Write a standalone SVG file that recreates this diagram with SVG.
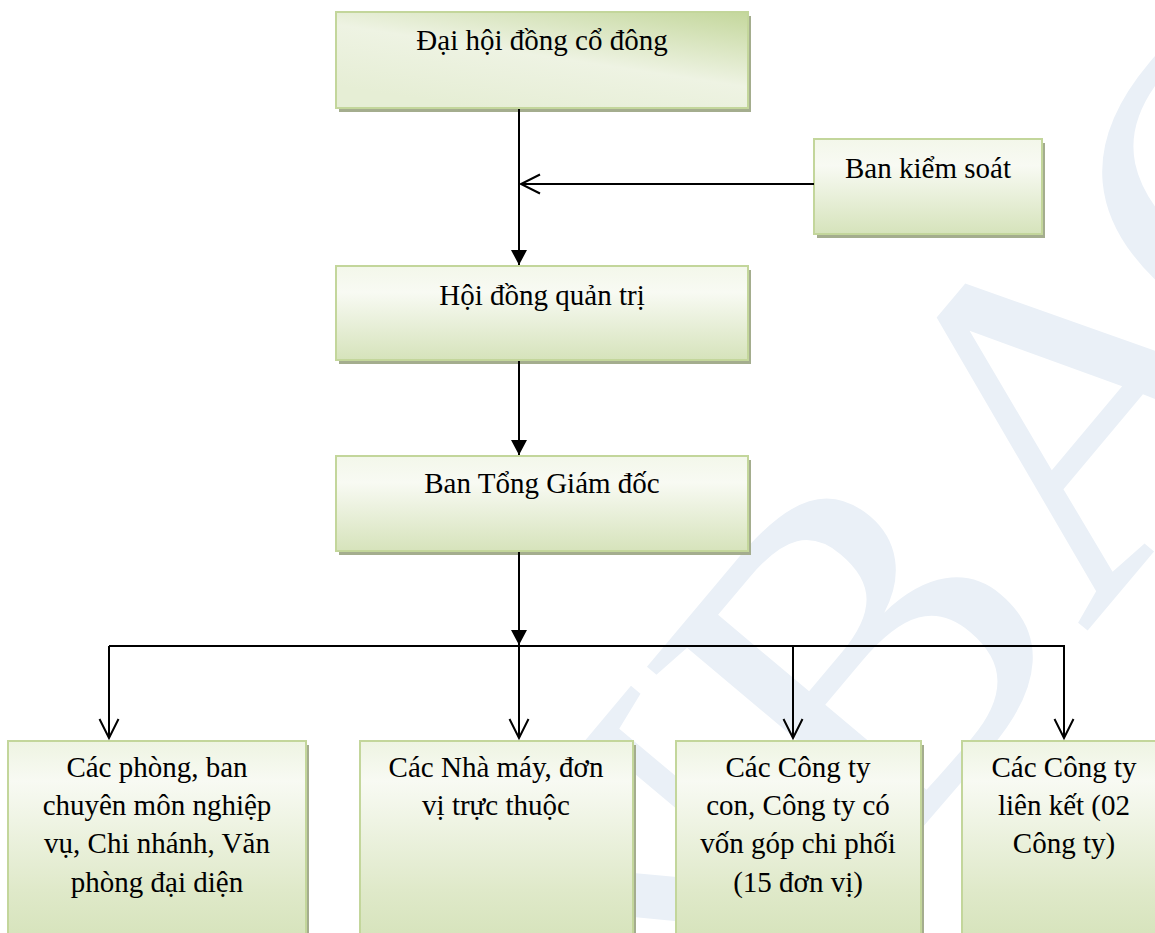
<svg xmlns="http://www.w3.org/2000/svg" width="1155" height="933" viewBox="0 0 1155 933">
<defs>
<linearGradient id="gBox" x1="0" y1="0" x2="0" y2="1">
<stop offset="0" stop-color="#f3f7ea"/>
<stop offset="0.28" stop-color="#f8faf3"/>
<stop offset="1" stop-color="#d6e3bb"/>
</linearGradient>
<linearGradient id="gTall" x1="0" y1="0" x2="0" y2="1">
<stop offset="0" stop-color="#eef4e2"/>
<stop offset="0.2" stop-color="#f8faf3"/>
<stop offset="0.75" stop-color="#dfe9c9"/>
<stop offset="1" stop-color="#d6e3bb"/>
</linearGradient>
<linearGradient id="gTop" x1="1" y1="0" x2="0.35" y2="1">
<stop offset="0" stop-color="#c4d79c"/>
<stop offset="0.55" stop-color="#eef3e3"/>
<stop offset="1" stop-color="#e6eed5"/>
</linearGradient>
<marker id="mFill" markerUnits="userSpaceOnUse" markerWidth="16" markerHeight="16" refX="15" refY="8" orient="auto" overflow="visible">
<path d="M0,0 L15,8 L0,16 z" fill="#000"/>
</marker>
<marker id="mOpen" markerUnits="userSpaceOnUse" markerWidth="22" markerHeight="22" refX="19" refY="9.5" orient="auto" overflow="visible">
<path d="M0,0 L19,9.5 L0,19" fill="none" stroke="#000" stroke-width="2"/>
</marker>
</defs>
<style>
.wm{font-family:"Liberation Serif","Times New Roman",serif;font-size:480px;fill:#eaf0f7}
.sh{fill:#a4ad8e}
.bx{fill:url(#gBox);stroke:#c3d69b;stroke-width:2}
.bt{fill:url(#gTall);stroke:#c3d69b;stroke-width:2}
.t{font-family:"Liberation Serif","Times New Roman",serif;font-size:29px;fill:#000;text-anchor:middle}
.c{fill:none;stroke:#000;stroke-width:2}
</style>
<rect width="1155" height="933" fill="#fff"/>
<g id="watermark">
<text class="wm" transform="translate(656,1145) rotate(-50)">NBA<tspan dx="-50">C</tspan></text>
</g>
<g id="n-dhdcd">
<rect class="sh" x="339" y="16" width="412" height="96"/>
<rect x="336" y="12" width="412" height="96" fill="url(#gTop)" stroke="#c3d69b" stroke-width="2"/>
<text class="t" x="542" y="50">Đại hội đồng cổ đông</text>
</g>
<g id="n-bks">
<rect class="sh" x="817" y="143" width="228" height="95"/>
<rect class="bx" x="814" y="139" width="228" height="95"/>
<text class="t" x="928" y="178">Ban kiểm soát</text>
</g>
<g id="n-hdqt">
<rect class="sh" x="339" y="270" width="412" height="94"/>
<rect class="bx" x="336" y="266" width="412" height="94"/>
<text class="t" x="542" y="305">Hội đồng quản trị</text>
</g>
<g id="n-btgd">
<rect class="sh" x="339" y="460" width="412" height="95"/>
<rect class="bx" x="336" y="456" width="412" height="95"/>
<text class="t" x="542" y="493">Ban Tổng Giám đốc</text>
</g>
<g id="n-phong">
<rect class="sh" x="11" y="745" width="298" height="200"/>
<rect class="bt" x="8" y="741" width="298" height="200"/>
<text class="t" x="157" y="777">Các phòng, ban</text>
<text class="t" x="157" y="815">chuyên môn nghiệp</text>
<text class="t" x="157" y="853">vụ, Chi nhánh, Văn</text>
<text class="t" x="157" y="892">phòng đại diện</text>
</g>
<g id="n-nhamay">
<rect class="sh" x="363" y="745" width="273" height="200"/>
<rect class="bt" x="360" y="741" width="273" height="200"/>
<text class="t" x="496" y="777">Các Nhà máy, đơn</text>
<text class="t" x="496" y="815">vị trực thuộc</text>
</g>
<g id="n-congtycon">
<rect class="sh" x="679" y="745" width="245" height="200"/>
<rect class="bt" x="676" y="741" width="245" height="200"/>
<text class="t" x="798" y="777">Các Công ty</text>
<text class="t" x="798" y="815">con, Công ty có</text>
<text class="t" x="798" y="853">vốn góp chi phối</text>
<text class="t" x="798" y="892">(15 đơn vị)</text>
</g>
<g id="n-lienket">
<rect class="sh" x="965" y="745" width="204" height="200"/>
<rect class="bt" x="962" y="741" width="204" height="200"/>
<text class="t" x="1064" y="777">Các Công ty</text>
<text class="t" x="1064" y="815">liên kết (02</text>
<text class="t" x="1064" y="853">Công ty)</text>
</g>
<g id="connectors">
<path class="c" d="M519,109 L519,265" marker-end="url(#mFill)"/>
<path class="c" d="M814,184 L521,184" marker-end="url(#mOpen)"/>
<path class="c" d="M519,361 L519,455" marker-end="url(#mFill)"/>
<path class="c" d="M519,552 L519,645" marker-end="url(#mFill)"/>
<path class="c" d="M109,646 L1065,646"/>
<path class="c" d="M109,646 L109,738" marker-end="url(#mOpen)"/>
<path class="c" d="M519,646 L519,738" marker-end="url(#mOpen)"/>
<path class="c" d="M793,646 L793,738" marker-end="url(#mOpen)"/>
<path class="c" d="M1064,646 L1064,738" marker-end="url(#mOpen)"/>
</g>
</svg>
